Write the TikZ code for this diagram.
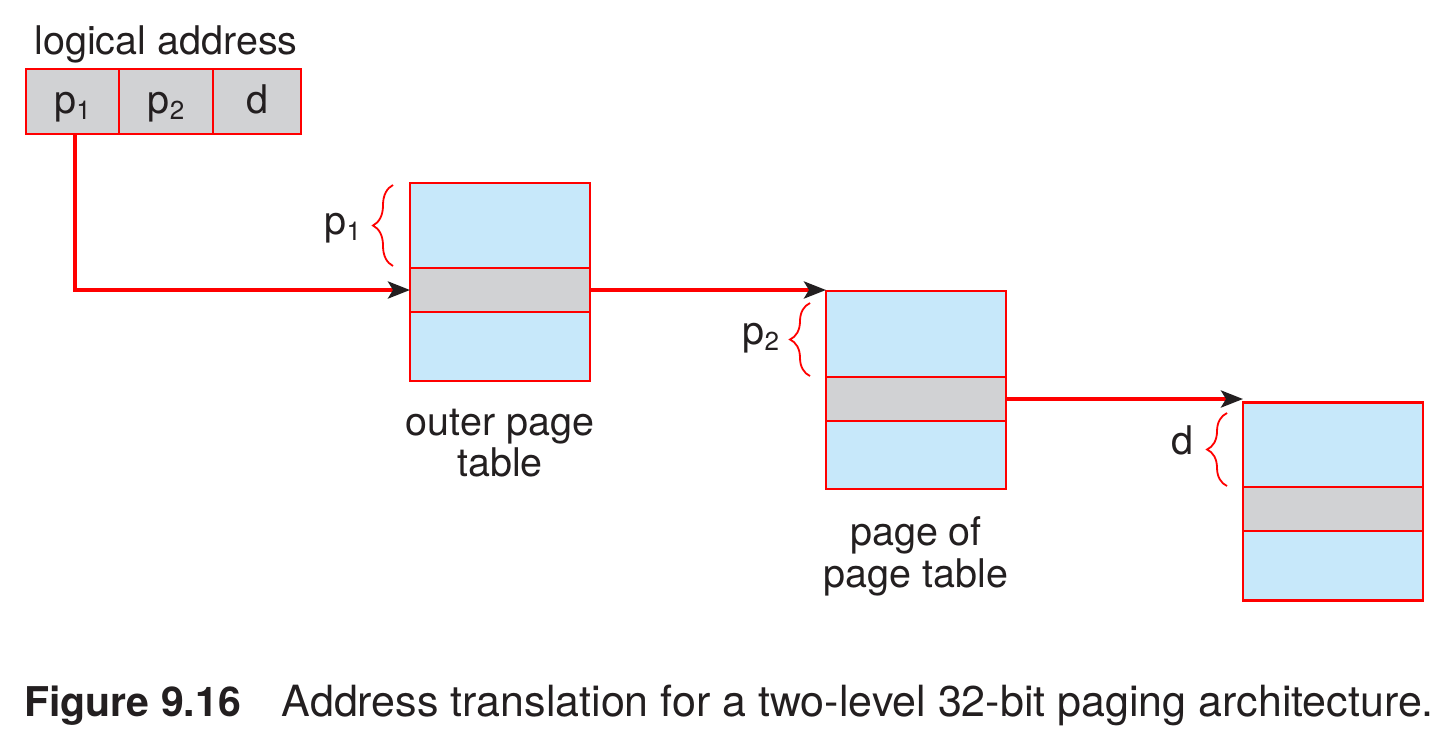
\documentclass[tikz,border=0pt]{standalone}
\usepackage{fontspec}
\setmainfont{TeX Gyre Heros}
\usetikzlibrary{arrows.meta,decorations.pathreplacing}
\definecolor{tblue}{HTML}{C7E8FA}
\definecolor{tgray}{HTML}{D1D2D4}
\definecolor{tred}{HTML}{FF0000}
\definecolor{ink}{HTML}{231F20}
\newcommand{\sbs}[1]{\raisebox{-6pt}{\fontsize{26}{26}\selectfont #1}}
\begin{document}
\begin{tikzpicture}[x=1pt,y=-1pt,
  txt/.style={text=ink,font=\fontsize{39.5}{43}\selectfont,inner sep=0pt,outer sep=0pt},
  cell/.style={draw=tred,line width=2.8pt,fill=tgray,inner sep=0pt,outer sep=0pt,minimum height=65pt},
  tbl/.style={draw=tred,line width=2.8pt,fill=tblue,inner sep=0pt,outer sep=0pt,minimum width=180pt,minimum height=198pt},
  band/.style={draw=tred,line width=2.8pt,fill=tgray,inner sep=0pt,outer sep=0pt,minimum width=180pt,minimum height=44pt},
  conn/.style={draw=tred,line width=3.8pt,-{Stealth[length=22pt,width=17pt,inset=5pt,color=ink]}},
  brc/.style={draw=tred,line width=1.8pt,decorate,decoration={brace,amplitude=20pt}}]
\useasboundingbox (0,0) rectangle (1448,753);
% logical address
\node[txt,anchor=base] (la) at (166,54) {logical address};
\node[cell,minimum width=93pt] (c1) at (72.5,101.5) {};
\node[cell,minimum width=94pt] (c2) at (166,101.5) {};
\node[cell,minimum width=88pt] (c3) at (257,101.5) {};
\node[txt,anchor=base] (t1) at (c1|-0,113) {p\sbs{1}};
\node[txt,anchor=base] (t2) at (c2|-0,113) {p\sbs{2}};
\node[txt,anchor=base] (t3) at (c3|-0,113) {d};
% tables
\node[tbl] (tb1) at (500,282) {};
\node[band] (bd1) at (500,290) {};
\node[tbl] (tb2) at (916,390) {};
\node[band] (bd2) at (916,399) {};
\node[tbl] (tb3) at (1333,501.5) {};
\node[band] (bd3) at (1333,509) {};
% labels
\node[txt,anchor=base] (l1a) at (500,435) {outer page};
\node[txt,anchor=base] (l1b) at (500,476) {table};
\node[txt,anchor=base] (l2a) at (916,545) {page of};
\node[txt,anchor=base] (l2b) at (916,587) {page table};
% braces
\coordinate (b1t) at (393,185);
\coordinate (b1b) at (393,266);
\draw[brc] (b1b) -- (b1t);
\node[txt,anchor=base east] (bl1) at (361,234) {p\sbs{1}};
\coordinate (b2t) at (810,303);
\coordinate (b2b) at (810,376);
\draw[brc] (b2b) -- (b2t);
\node[txt,anchor=base east] (bl2) at (779,344) {p\sbs{2}};
\coordinate (b3t) at (1227,413);
\coordinate (b3b) at (1227,486);
\draw[brc] (b3b) -- (b3t);
\node[txt,anchor=base east] (bl3) at (1193,454) {d};
% connectors
\draw[conn] ([xshift=2.5pt]c1.south) |- (bd1.west);
\draw[conn] (bd1.east) -- (bd1.east -| tb2.west);
\draw[conn] (bd2.east) -- (bd2.east -| tb3.west);
% caption
\node[text=ink,anchor=base west,inner sep=0pt] (cap) at (24,716)
  {\fontsize{41}{46}\selectfont\textbf{Figure 9.16}\hspace{41pt}\fontsize{43}{46}\selectfont Address translation for a two-level 32-bit paging architecture.};
\end{tikzpicture}
\end{document}
